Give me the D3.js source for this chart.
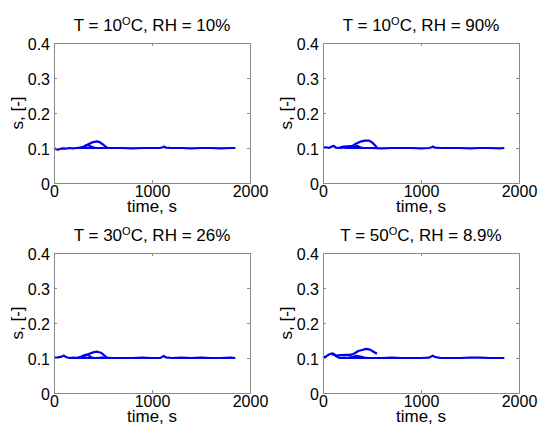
<!DOCTYPE html>
<html>
<head>
<meta charset="utf-8">
<script src="https://cdn.jsdelivr.net/npm/d3@7"></script>
<style>
  body { margin: 0; background: #fff; }
  text { font-family: "Liberation Sans", Arial, sans-serif; fill: #000; }
</style>
</head>
<body>
<script>
// axis ticks
var timeTicks = [0, 1000, 2000];
var timeTickLabels = ["0", "1000", "2000"];
var sTicks = [0, 0.1, 0.2, 0.3, 0.4];
var sTickLabels = ["0", "0.1", "0.2", "0.3", "0.4"];

// panel titles
var titleT = ["10", "10", "30", "50"];
var titleRH = ["10%", "90%", "26%", "8.9%"];

// T = 10C, RH = 10%
var p1Main = [[0,0.100],[20,0.097],[40,0.095],[60,0.097],[90,0.099],[120,0.098],[150,0.100],[190,0.099],[230,0.100],[270,0.101],[320,0.100],[380,0.101],[450,0.100],[520,0.100],[600,0.100],[700,0.100],[800,0.099],[900,0.100],[1000,0.100],[1080,0.100],[1110,0.102],[1125,0.104],[1140,0.101],[1200,0.100],[1300,0.100],[1400,0.099],[1500,0.100],[1600,0.100],[1700,0.099],[1800,0.100],[1850,0.100]];
var p1Bump = [[280,0.100],[320,0.106],[360,0.112],[400,0.117],[440,0.119],[470,0.116],[500,0.110],[530,0.103],[550,0.100]];
var p1Small = [[260,0.100],[300,0.103],[330,0.108],[350,0.109],[380,0.104],[410,0.100]];

// T = 10C, RH = 90%
var p2Main = [[0,0.101],[30,0.102],[60,0.100],[90,0.104],[110,0.106],[130,0.101],[160,0.100],[200,0.102],[240,0.100],[280,0.101],[320,0.100],[400,0.100],[500,0.100],[600,0.099],[700,0.100],[800,0.100],[900,0.100],[1000,0.099],[1080,0.100],[1110,0.102],[1125,0.104],[1140,0.101],[1200,0.100],[1300,0.100],[1400,0.100],[1500,0.099],[1600,0.100],[1700,0.100],[1800,0.099],[1850,0.100]];
var p2Bump = [[170,0.101],[210,0.104],[260,0.105],[300,0.106],[340,0.113],[380,0.118],[430,0.121],[470,0.121],[500,0.116],[530,0.108],[550,0.101]];
var p2Small = [[280,0.100],[320,0.103],[350,0.106],[380,0.102],[410,0.100]];

// T = 30C, RH = 26%
var p3Main = [[0,0.101],[40,0.102],[80,0.104],[100,0.107],[120,0.103],[160,0.100],[200,0.101],[250,0.100],[300,0.101],[350,0.100],[420,0.100],[500,0.101],[600,0.100],[700,0.100],[800,0.100],[900,0.101],[1000,0.100],[1080,0.100],[1105,0.103],[1120,0.106],[1140,0.102],[1200,0.100],[1300,0.101],[1400,0.100],[1500,0.101],[1600,0.100],[1700,0.100],[1800,0.101],[1850,0.100]];
var p3Bump = [[280,0.101],[320,0.108],[360,0.112],[400,0.116],[440,0.118],[480,0.115],[510,0.108],[540,0.101]];
var p3Small = [[230,0.100],[280,0.104],[320,0.109],[350,0.108],[380,0.102],[410,0.100]];

// T = 50C, RH = 8.9%
var p4Main = [[0,0.101],[30,0.104],[60,0.110],[90,0.113],[110,0.112],[140,0.104],[170,0.100],[220,0.101],[280,0.100],[340,0.101],[400,0.100],[500,0.100],[600,0.100],[700,0.101],[800,0.100],[900,0.100],[1000,0.100],[1080,0.101],[1105,0.104],[1120,0.107],[1140,0.103],[1200,0.100],[1300,0.100],[1400,0.100],[1500,0.101],[1600,0.101],[1700,0.100],[1800,0.100],[1850,0.100]];
var p4Upper = [[90,0.111],[130,0.107],[180,0.108],[230,0.109],[280,0.109],[320,0.113],[360,0.120],[400,0.123],[440,0.126],[480,0.124],[520,0.117],[550,0.112]];
var p4Small = [[250,0.100],[300,0.103],[340,0.106],[380,0.104],[420,0.101],[460,0.100]];

var panelSeries = [
  [p1Main, p1Bump, p1Small],
  [p2Main, p2Bump, p2Small],
  [p3Main, p3Bump, p3Small],
  [p4Main, p4Upper, p4Small]
];

var width = 539, height = 428;
var pw = 196, ph = 140;
var lefts = [54, 323, 54, 323];
var tops = [43, 43, 253, 253];

var svg = d3.select("body").append("svg")
  .attr("width", width)
  .attr("height", height);

var x = d3.scaleLinear().domain([0, 2000]).range([0, pw]);
var y = d3.scaleLinear().domain([0, 0.4]).range([ph, 0]);

var line = d3.line()
  .x(function(d) { return x(d[0]); })
  .y(function(d) { return y(d[1]); });

panelSeries.forEach(function(series, i) {
  var g = svg.append("g")
    .attr("transform", "translate(" + lefts[i] + "," + tops[i] + ")");

  // data lines
  g.selectAll("path.series")
    .data(series)
    .enter()
      .append("path")
        .attr("class", "series")
        .attr("d", line)
        .attr("fill", "none")
        .attr("stroke", "#0000f0")
        .attr("stroke-width", 2.2)
        .attr("stroke-linejoin", "round");

  // box with inward ticks on every side (matlab style)
  var bottom = g.append("g")
    .attr("transform", "translate(0," + ph + ")")
    .call(d3.axisBottom(x).tickValues(timeTicks).tickSizeInner(-3).tickSizeOuter(0).tickPadding(3)
      .tickFormat(function(d, k) { return timeTickLabels[k]; }));
  var top = g.append("g")
    .call(d3.axisTop(x).tickValues(timeTicks).tickSizeInner(-3).tickSizeOuter(0).tickFormat(""));
  var left = g.append("g")
    .call(d3.axisLeft(y).tickValues(sTicks).tickSizeInner(-3).tickSizeOuter(0).tickPadding(4)
      .tickFormat(function(d, k) { return sTickLabels[k]; }));
  var right = g.append("g")
    .attr("transform", "translate(" + pw + ",0)")
    .call(d3.axisRight(y).tickValues(sTicks).tickSizeInner(-3).tickSizeOuter(0).tickFormat(""));

  [bottom, top, left, right].forEach(function(a) {
    a.select(".domain").attr("stroke", "#8a8a8a");
    a.selectAll(".tick line").attr("stroke", "#8a8a8a");
    a.selectAll("text")
      .attr("fill", "#000")
      .style("font-size", "16px")
      .style("font-family", "Liberation Sans, Arial, sans-serif");
  });
  bottom.selectAll("text").attr("dy", "0.71em");
  left.selectAll("text").attr("dy", "0.4em");

  // title
  var title = g.append("text")
    .attr("x", pw / 2)
    .attr("y", -12)
    .attr("text-anchor", "middle")
    .style("font-size", "17px");
  title.append("tspan").text("T = " + titleT[i]);
  title.append("tspan").attr("dy", -6).style("font-size", "11px").text("O");
  title.append("tspan").attr("dy", 6).text("C, RH = " + titleRH[i]);

  // axis labels
  g.append("text")
    .attr("x", pw / 2)
    .attr("y", ph + 29)
    .attr("text-anchor", "middle")
    .style("font-size", "17px")
    .text("time, s");

  g.append("text")
    .attr("transform", "translate(-31," + (ph / 2) + ") rotate(-90)")
    .attr("text-anchor", "middle")
    .style("font-size", "17px")
    .text("s, [-]");
});
</script>
</body>
</html>
